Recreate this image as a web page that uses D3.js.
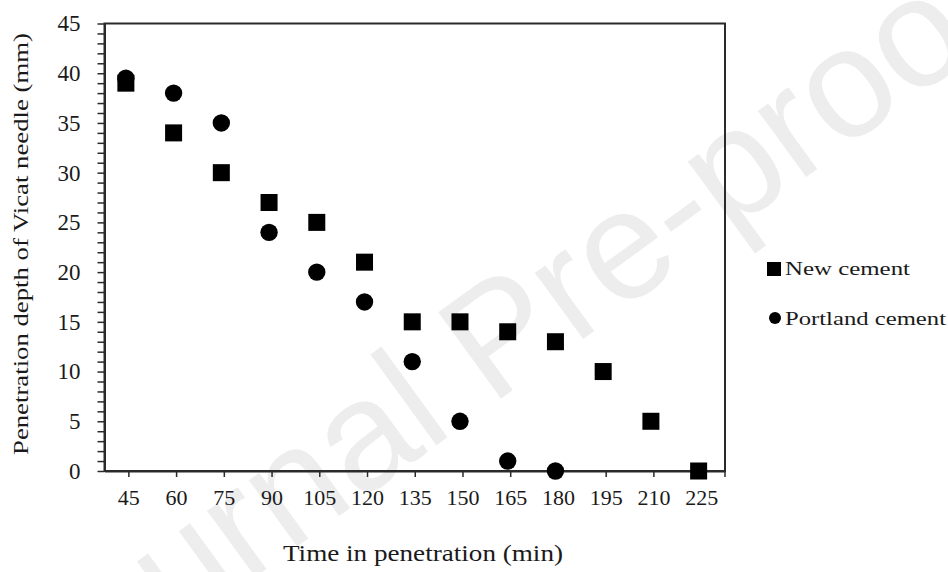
<!DOCTYPE html>
<html>
<head>
<meta charset="utf-8">
<script src="https://cdn.jsdelivr.net/npm/d3@7"></script>
<style>
  html, body { margin: 0; padding: 0; background: #fff; }
  svg { display: block; }
</style>
</head>
<body>
<svg id="chart" width="948" height="572"></svg>
<script>
const times = [45, 60, 75, 90, 105, 120, 135, 150, 165, 180, 195, 210, 225];
const newCement = [39, 34, 30, 27, 25, 21, 15, 15, 14, 13, 10, 5, 0];
const portlandCement = [39.5, 38, 35, 24, 20, 17, 11, 5, 1, 0, null, null, null];
const yTicks = [0, 5, 10, 15, 20, 25, 30, 35, 40, 45];
const seriesNames = ["New cement", "Portland cement"];
const xTitle = "Time in penetration (min)";
const yTitle = "Penetration depth of Vicat  needle (mm)";
const watermark = "Journal Pre-proof";

const FONT = "'Liberation Serif', 'Times New Roman', Tinos, Times, serif";
const svg = d3.select("#chart");
const m = { left: 104.5, right: 725, top: 23.5, bottom: 471 };

// watermark
svg.append("text")
  .attr("transform", "translate(505,345) rotate(-36)")
  .attr("text-anchor", "middle")
  .attr("dominant-baseline", "middle")
  .attr("font-family", "'Liberation Sans', Arial, sans-serif")
  .attr("font-size", 155)
  .attr("fill", "#ededed")
  .text(watermark);

const x = d3.scalePoint().domain(times).range([m.left, m.right]).padding(0.5);
const y = d3.scaleLinear().domain([0, 45]).range([m.bottom, m.top]);

// frame
svg.append("rect")
  .attr("x", m.left).attr("y", m.top)
  .attr("width", m.right - m.left).attr("height", m.bottom - m.top)
  .attr("fill", "none").attr("stroke", "#2a2a2a").attr("stroke-width", 2);

// y axis
const yAxis = svg.append("g")
  .attr("transform", `translate(${m.left},0)`)
  .call(d3.axisLeft(y)
    .tickValues(d3.range(0, 46, 1))
    .tickSize(7)
    .tickSizeOuter(0)
    .tickPadding(17)
    .tickFormat(d => yTicks.includes(d) ? d : ""));
yAxis.attr("font-family", FONT);
yAxis.select(".domain").attr("stroke", "#2a2a2a").attr("stroke-width", 2);
yAxis.selectAll(".tick line").attr("stroke", "#2a2a2a").attr("stroke-width", 1.5);
yAxis.selectAll(".tick text").attr("font-family", FONT).attr("font-size", 23).attr("fill", "#1a1a1a");

// x axis
const xAxis = svg.append("g")
  .attr("transform", `translate(0,${m.bottom})`)
  .call(d3.axisBottom(x).tickSize(6).tickSizeOuter(0).tickPadding(12));
xAxis.attr("font-family", FONT);
xAxis.select(".domain").attr("stroke", "#2a2a2a").attr("stroke-width", 2);
xAxis.selectAll(".tick line").attr("stroke", "#2a2a2a").attr("stroke-width", 1.5);
xAxis.selectAll(".tick text").attr("font-family", FONT).attr("font-size", 22).attr("fill", "#1a1a1a");

// right axis small extension below
svg.append("line")
  .attr("x1", m.right).attr("x2", m.right)
  .attr("y1", m.bottom).attr("y2", m.bottom + 6)
  .attr("stroke", "#2a2a2a").attr("stroke-width", 1.5);

// points
const off = -2.5;
const pts = svg.append("g").attr("transform", `translate(${off},0)`);
pts.selectAll("circle.p")
  .data(times.map((t, i) => ({ t, v: portlandCement[i] })).filter(d => d.v !== null))
  .enter().append("circle")
  .attr("class", "p")
  .attr("cx", d => x(d.t)).attr("cy", d => y(d.v))
  .attr("r", 8.7).attr("fill", "#000");

const sq = 17;
pts.selectAll("rect.n")
  .data(times.map((t, i) => ({ t, v: newCement[i] })))
  .enter().append("rect")
  .attr("class", "n")
  .attr("x", d => x(d.t) - sq / 2).attr("y", d => y(d.v) - sq / 2)
  .attr("width", sq).attr("height", sq).attr("fill", "#000");

// axis titles
svg.append("text")
  .attr("x", 423).attr("y", 561)
  .attr("text-anchor", "middle")
  .attr("textLength", 280).attr("lengthAdjust", "spacingAndGlyphs")
  .attr("font-family", FONT).attr("font-size", 23).attr("fill", "#1a1a1a")
  .text(xTitle);

svg.append("text")
  .attr("transform", "translate(28,244) rotate(-90)")
  .attr("text-anchor", "middle")
  .attr("textLength", 422).attr("lengthAdjust", "spacingAndGlyphs")
  .attr("font-family", FONT).attr("font-size", 22).attr("fill", "#1a1a1a")
  .text(yTitle);

// legend
const lg = svg.append("g");
lg.append("rect").attr("x", 767).attr("y", 262).attr("width", 14).attr("height", 14).attr("fill", "#000");
lg.append("text").attr("x", 785).attr("y", 275)
  .attr("textLength", 125).attr("lengthAdjust", "spacingAndGlyphs")
  .attr("font-family", FONT).attr("font-size", 19).attr("fill", "#1a1a1a").text(seriesNames[0]);
lg.append("circle").attr("cx", 775).attr("cy", 318).attr("r", 6).attr("fill", "#000");
lg.append("text").attr("x", 785).attr("y", 325)
  .attr("textLength", 161).attr("lengthAdjust", "spacingAndGlyphs")
  .attr("font-family", FONT).attr("font-size", 19).attr("fill", "#1a1a1a").text(seriesNames[1]);
</script>
</body>
</html>
